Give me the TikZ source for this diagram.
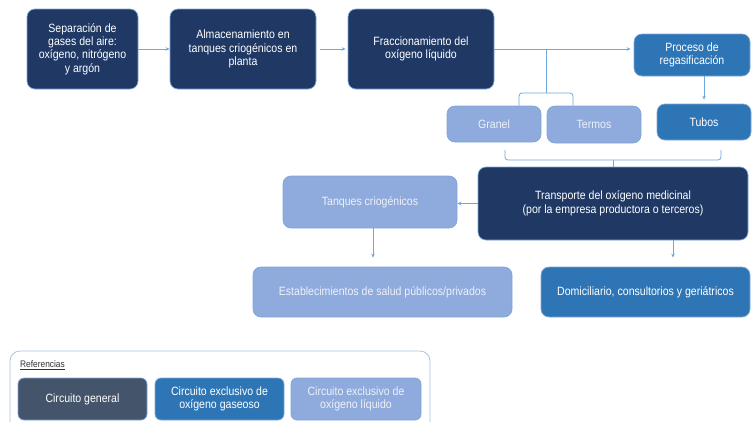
\documentclass[tikz,border=0pt]{standalone}
\usepackage{fontspec}
\setmainfont{Liberation Sans}[FakeStretch=0.88]
\usetikzlibrary{arrows.meta,calc}
\definecolor{navy}{HTML}{1F3864}
\definecolor{slate}{HTML}{44546A}
\definecolor{midblue}{HTML}{2E75B6}
\definecolor{lightblue}{HTML}{8FAADC}
\definecolor{edge}{HTML}{7FA7D9}
\definecolor{conn}{HTML}{6FA8DC}
\definecolor{frame}{HTML}{A9C4E0}
\definecolor{paletext}{HTML}{EEF2F8}
\tikzset{
  box/.style={rounded corners=8pt, draw=edge, line width=0.7pt, align=center, inner sep=0pt,
    font=\fontsize{12}{13.4}\selectfont},
  darkbox/.style={box, fill=navy, text=white},
  midbox/.style={box, fill=midblue, text=white},
  lightbox/.style={box, fill=lightblue, text=paletext},
  legbox/.style={box, rounded corners=6pt},
  conn/.style={draw=conn, line width=0.8pt},
  arr/.style={conn, -{Stealth[length=4pt,width=3.5pt]}},
}
\begin{document}
\begin{tikzpicture}[x=1pt,y=-1pt]
\useasboundingbox (0,0) rectangle (752,421);
% top row
\node[darkbox, minimum width=111pt, minimum height=80pt] (sep) at (82.5,49) {Separación de\\gases del aire:\\oxígeno, nitrógeno\\y argón};
\node[darkbox, minimum width=146pt, minimum height=80pt] (alm) at (243,49) {Almacenamiento en\\tanques criogénicos en\\planta};
\node[darkbox, minimum width=146pt, minimum height=80pt] (frac) at (421,49) {Fraccionamiento del\\oxígeno líquido};
\node[midbox, minimum width=116pt, minimum height=42pt] (proc) at (692,55) {Proceso de\\regasificación};
% second row
\node[lightbox, minimum width=94pt, minimum height=36pt] (granel) at (494,124) {Granel};
\node[lightbox, minimum width=94pt, minimum height=37pt] (termos) at (594,124.5) {Termos};
\node[midbox, minimum width=94pt, minimum height=36pt] (tubos) at (704,122) {Tubos};
% transport
\node[darkbox, minimum width=270pt, minimum height=73pt] (transp) at (613,203.5) {Transporte del oxígeno medicinal\\(por la empresa productora o terceros)};
\node[lightbox, minimum width=174pt, minimum height=52pt] (tanq) at (370,202) {Tanques criogénicos};
\node[lightbox, minimum width=259pt, minimum height=50pt] (estab) at (382.5,292) {Establecimientos de salud públicos/privados};
\node[midbox, minimum width=209pt, minimum height=50pt] (domic) at (645.5,292) {Domiciliario, consultorios y geriátricos};
% connectors
\draw[arr] (sep.east) -- (alm.west);
\draw[arr, shorten <=4pt, shorten >=2pt] (alm.east) -- (frac.west);
\draw[arr, shorten >=3pt] (frac.east) -- (frac.east -| proc.west);
\coordinate (br) at (546,49);
\coordinate (brm) at (546,93);
\draw[conn] (br) -- (brm);
\draw[conn, rounded corners=3pt] ($(granel.north)+(25,0)$) |- (brm) -| ($(termos.north)+(-21,0)$);
\draw[arr, shorten >=4pt] (proc.south -| tubos.north) -- (tubos.north);
\coordinate (lb1) at (505,150);
\coordinate (lb2) at (721,150);
\coordinate (lbm) at (613,160);
\draw[conn, rounded corners=3pt] (lb1) |- (lbm) -| (lb2);
\draw[conn] (lbm) -- (transp.north);
\draw[arr] (transp.west) -- (transp.west -| tanq.east);
\draw[arr, shorten >=9pt] (tanq.south -| 373,0) -- (estab.north -| 373,0);
\draw[arr, shorten >=9pt] (transp.south -| 673,0) -- (domic.north -| 673,0);
% legend
\draw[frame, line width=0.8pt, rounded corners=10pt] (10,351) rectangle (430,432);
\node[anchor=west, font=\fontsize{9.5}{11}\selectfont, text=black!80, inner sep=0pt] (ref) at (20,365) {\underline{Referencias}};
\node[legbox, fill=slate, text=white, minimum width=129pt, minimum height=42pt] (lg) at (82.5,399) {Circuito general};
\node[legbox, fill=midblue, text=white, minimum width=129pt, minimum height=42pt] (lgas) at (219.5,399) {Circuito exclusivo de\\oxígeno gaseoso};
\node[legbox, fill=lightblue, text=paletext, minimum width=130pt, minimum height=42pt] (lliq) at (356,399) {Circuito exclusivo de\\oxígeno líquido};
\end{tikzpicture}
\end{document}
